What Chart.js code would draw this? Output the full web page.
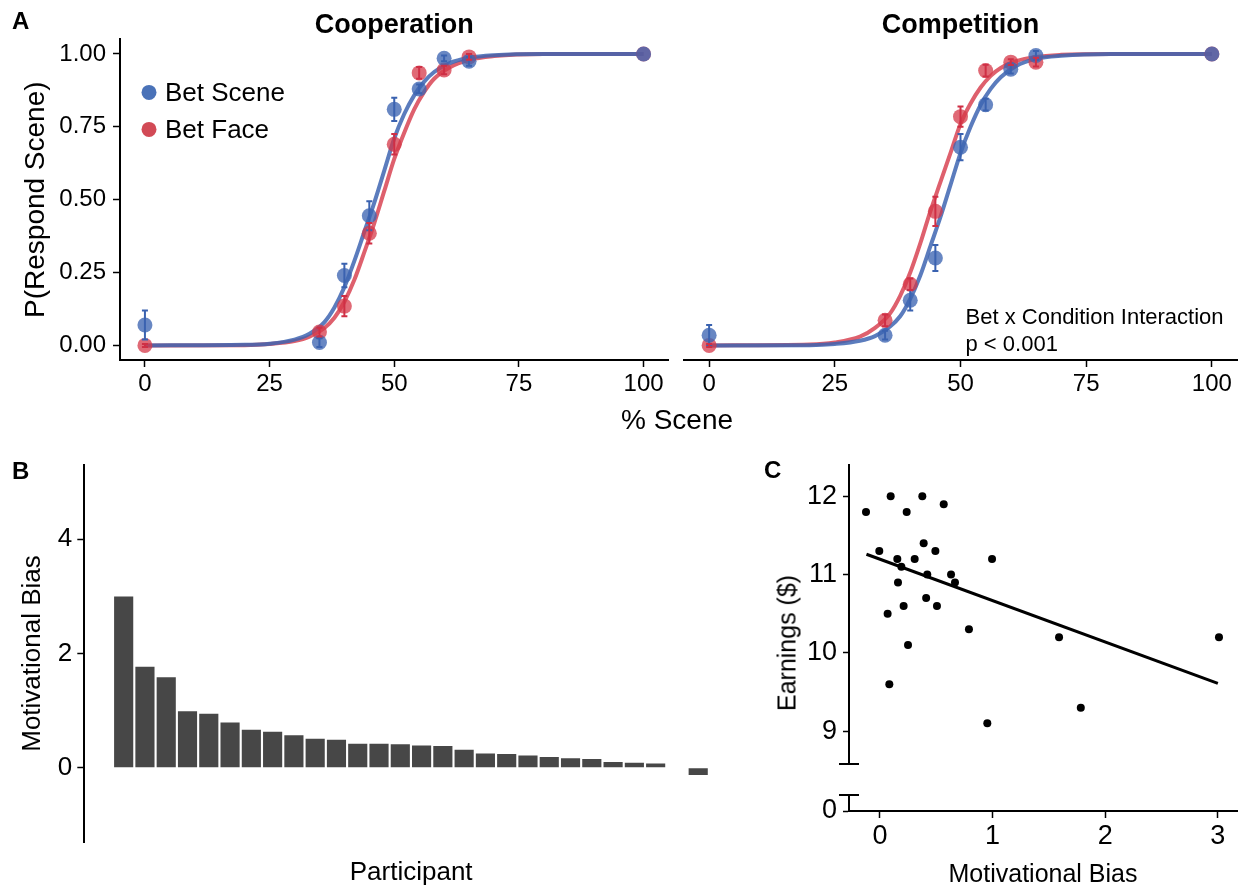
<!DOCTYPE html>
<html>
<head>
<meta charset="utf-8">
<script src="https://cdn.jsdelivr.net/npm/chart.js@4.4.0/dist/chart.umd.min.js"></script>
<style>
html, body { margin: 0; padding: 0; background: #fff; }
#fig { position: relative; width: 1245px; height: 888px; overflow: hidden; font-family: "Liberation Sans", Arial, sans-serif; color: #000; }
#fig canvas { position: absolute; }
.lbl { position: absolute; white-space: nowrap; line-height: 1; }
.tag { font-weight: bold; font-size: 24px; }
</style>
</head>
<body>
<div id="fig">
  <canvas id="coop" width="676" height="410" style="left:0;top:0"></canvas>
  <canvas id="comp" width="569" height="410" style="left:676px;top:0"></canvas>
  <canvas id="bias" width="740" height="448" style="left:0;top:440px"></canvas>
  <canvas id="earn" width="505" height="448" style="left:740px;top:440px"></canvas>
  <div class="lbl tag" style="left:12px;top:9px">A</div>
  <div class="lbl tag" style="left:12px;top:459px">B</div>
  <div class="lbl tag" style="left:764px;top:458px">C</div>
  <div class="lbl" style="left:677px;top:420px;font-size:28px;transform:translate(-50%,-50%)">% Scene</div>
  <div class="lbl" style="left:787px;top:643px;font-size:25px;transform:translate(-50%,-50%) rotate(-90deg)">Earnings ($)</div>
</div>
<script>
// panel A: proportion "scene" responses per % scene level
const sceneLevels = [0, 35, 40, 45, 50, 55, 60, 65, 100];
const coopBetScene = [0.07, 0.01, 0.24, 0.445, 0.81, 0.88, 0.985, 0.975, 1.0];
const coopBetSceneErr = [0.05, 0.015, 0.04, 0.05, 0.04, 0.015, 0.01, 0.015, 0];
const coopBetFace = [0.0, 0.046, 0.135, 0.385, 0.69, 0.935, 0.945, 0.99, 1.0];
const coopBetFaceErr = [0.005, 0.015, 0.035, 0.035, 0.035, 0.02, 0.015, 0.01, 0];
const compBetScene = [0.035, 0.035, 0.155, 0.3, 0.68, 0.826, 0.948, 0.995, 1.0];
const compBetSceneErr = [0.035, 0.015, 0.035, 0.045, 0.045, 0.02, 0.015, 0.015, 0];
const compBetFace = [0.0, 0.086, 0.21, 0.46, 0.785, 0.943, 0.972, 0.972, 1.0];
const compBetFaceErr = [0.005, 0.02, 0.02, 0.05, 0.035, 0.02, 0.01, 0.015, 0];

// fitted curves
const fitX = [0, 20, 25, 30, 33, 36, 38, 40, 42, 44, 46, 48, 50, 52, 54, 56, 58, 61, 65, 70, 80, 100];
const coopSceneFit = [0, 0.002, 0.006, 0.02, 0.04, 0.08, 0.13, 0.2, 0.29, 0.39, 0.49, 0.6, 0.71, 0.794, 0.858, 0.905, 0.938, 0.968, 0.987, 0.996, 1, 1];
const coopFaceFit = [0, 0.001, 0.005, 0.015, 0.03, 0.06, 0.095, 0.15, 0.225, 0.32, 0.42, 0.53, 0.64, 0.73, 0.81, 0.87, 0.915, 0.953, 0.98, 0.993, 1, 1];
const compSceneFit = [0, 0.001, 0.005, 0.016, 0.032, 0.065, 0.1, 0.16, 0.24, 0.34, 0.44, 0.55, 0.66, 0.75, 0.825, 0.88, 0.92, 0.958, 0.983, 0.994, 1, 1];
const compFaceFit = [0, 0.003, 0.01, 0.03, 0.06, 0.11, 0.17, 0.25, 0.35, 0.46, 0.56, 0.66, 0.76, 0.83, 0.885, 0.925, 0.952, 0.975, 0.99, 0.997, 1, 1];
const sceneTicks = [0, 25, 50, 75, 100];
const probTicks = [0, 0.25, 0.5, 0.75, 1];

// panel B: motivational bias per participant (sorted)
const participants = [1, 2, 3, 4, 5, 6, 7, 8, 9, 10, 11, 12, 13, 14, 15, 16, 17, 18, 19, 20, 21, 22, 23, 24, 25, 26, 27, 28];
const motivationalBias = [3.0, 1.77, 1.585, 0.99, 0.947, 0.79, 0.667, 0.632, 0.567, 0.509, 0.491, 0.42, 0.42, 0.41, 0.39, 0.38, 0.316, 0.251, 0.24, 0.216, 0.187, 0.164, 0.152, 0.099, 0.088, 0.076, 0, -0.129];
const biasTicksB = [0, 2, 4];

// panel C: earnings vs motivational bias
const biasC = [-0.124, 0.095, 0.376, 0.237, 0.566, -0.006, 0.154, 0.19, 0.308, 0.388, 0.492, 0.42, 0.631, 0.666, 0.16, 0.995, 0.21, 0.068, 0.41, 0.506, 0.79, 0.249, 0.083, 1.59, 3.01, 0.953, 1.783];
const earnings = [11.8, 12.0, 12.0, 11.8, 11.9, 11.3, 11.2, 11.1, 11.2, 11.4, 11.3, 11.0, 11.0, 10.9, 10.9, 11.2, 10.6, 10.5, 10.7, 10.6, 10.3, 10.1, 9.6, 10.2, 10.2, 9.1, 9.3];
const regX = [-0.12, 3.0];
const regY = [11.26, 9.61];
const biasTicksC = [0, 1, 2, 3];
const earnTicks = [9, 10, 11, 12];

Chart.defaults.font.family = '"Liberation Sans", Arial, sans-serif';
Chart.defaults.color = '#000';

const BLUE = 'rgba(62,101,178,0.78)';
const RED = 'rgba(214,56,72,0.75)';
const BLUE_LINE = 'rgba(62,101,178,0.85)';
const RED_LINE = 'rgba(214,56,72,0.8)';

const pts = (xs, ys) => xs.map((v, i) => ({x: v, y: ys[i]}));
const fixTicks = vals => s => { s.ticks = vals.map(v => ({value: v})); };

const errorBars = {
  id: 'errorBars',
  afterDatasetsDraw(chart) {
    const {ctx, scales: {x, y}} = chart;
    chart.data.datasets.forEach(ds => {
      if (!ds.errors) return;
      ctx.save();
      ctx.strokeStyle = ds.errorColor;
      ctx.lineWidth = 2;
      ds.data.forEach((p, j) => {
        const e = ds.errors[j];
        if (!e) return;
        const px = x.getPixelForValue(p.x);
        const top = y.getPixelForValue(p.y + e);
        const bot = y.getPixelForValue(p.y - e);
        ctx.beginPath();
        ctx.moveTo(px, top); ctx.lineTo(px, bot);
        ctx.moveTo(px - 3, top); ctx.lineTo(px + 3, top);
        ctx.moveTo(px - 3, bot); ctx.lineTo(px + 3, bot);
        ctx.stroke();
      });
      ctx.restore();
    });
  }
};

const dotLegend = {
  id: 'dotLegend',
  afterDraw(chart) {
    if (!chart.options.plugins.dotLegend.show) return;
    const {ctx, chartArea} = chart;
    const items = chart.data.datasets.filter(d => d.legendColor);
    ctx.save();
    ctx.font = '26px "Liberation Sans", Arial, sans-serif';
    ctx.textBaseline = 'middle';
    items.forEach((d, i) => {
      const cy = chartArea.top + 53 + i * 37;
      ctx.fillStyle = d.legendColor;
      ctx.beginPath();
      ctx.arc(chartArea.left + 29, cy, 7.5, 0, Math.PI * 2);
      ctx.fill();
      ctx.fillStyle = '#000';
      ctx.fillText(d.label, chartArea.left + 45, cy + 1);
    });
    ctx.restore();
  }
};

const noteText = {
  id: 'noteText',
  afterDraw(chart) {
    const lines = chart.options.plugins.noteText.lines;
    if (!lines) return;
    const {ctx, scales: {x, y}} = chart;
    ctx.save();
    ctx.font = '22px "Liberation Sans", Arial, sans-serif';
    ctx.fillStyle = '#000';
    ctx.textBaseline = 'middle';
    lines.forEach(l => ctx.fillText(l.text, x.getPixelForValue(l.x), y.getPixelForValue(l.y)));
    ctx.restore();
  }
};

function psychChart(id, title, sceneY, sceneErr, faceY, faceErr, sceneFit, faceFit, withYAxis, legend, notes) {
  return new Chart(document.getElementById(id), {
    type: 'scatter',
    data: {
      datasets: [
        {label: 'Bet Scene', data: pts(sceneLevels, sceneY), errors: sceneErr, errorColor: '#3a62b0',
         legendColor: '#4a72b8', backgroundColor: BLUE, pointRadius: 7.5, borderWidth: 0},
        {label: 'Bet Face', data: pts(sceneLevels, faceY), errors: faceErr, errorColor: '#cf2f45',
         legendColor: '#d24a56', backgroundColor: RED, pointRadius: 7.5, borderWidth: 0},
        {type: 'line', data: pts(fitX, sceneFit), borderColor: BLUE_LINE, borderWidth: 4,
         pointRadius: 0, cubicInterpolationMode: 'monotone'},
        {type: 'line', data: pts(fitX, faceFit), borderColor: RED_LINE, borderWidth: 4,
         pointRadius: 0, cubicInterpolationMode: 'monotone'}
      ]
    },
    options: {
      responsive: false,
      animation: false,
      layout: {padding: withYAxis ? {left: 0, right: 4} : {left: 8, right: 8}},
      plugins: {
        legend: {display: false},
        tooltip: {enabled: false},
        title: {display: true, text: title, fullSize: false,
                font: {size: 27, weight: 'bold', lineHeight: 1}, padding: {top: 12.4, bottom: 0}},
        dotLegend: {show: legend},
        noteText: {lines: notes}
      },
      scales: {
        x: {
          type: 'linear', min: -5, max: 105,
          afterBuildTicks: fixTicks(sceneTicks),
          afterFit: s => { s.height = 50; },
          grid: {drawOnChartArea: false, tickLength: 7, tickColor: '#000', tickWidth: 1.5},
          border: {color: '#000', width: 2},
          ticks: {font: {size: 24}, padding: 3, maxRotation: 0}
        },
        y: {
          type: 'linear', min: -0.05, max: 1.05, display: withYAxis,
          afterBuildTicks: fixTicks(probTicks),
          afterFit: s => { s.width = withYAxis ? 120 : 0; },
          grid: {drawOnChartArea: false, tickLength: 7, tickColor: '#000', tickWidth: 1.5},
          border: {color: '#000', width: 2},
          ticks: {font: {size: 24}, padding: 7, callback: v => v.toFixed(2)},
          title: {display: true, text: 'P(Respond Scene)', font: {size: 28}, padding: {top: 19, bottom: 0}}
        }
      }
    },
    plugins: [errorBars, dotLegend, noteText]
  });
}

psychChart('coop', 'Cooperation', coopBetScene, coopBetSceneErr, coopBetFace, coopBetFaceErr,
  coopSceneFit, coopFaceFit, true, true, null);
psychChart('comp', 'Competition', compBetScene, compBetSceneErr, compBetFace, compBetFaceErr,
  compSceneFit, compFaceFit, false, false,
  [{text: 'Bet x Condition Interaction', x: 51, y: 0.095}, {text: 'p < 0.001', x: 51, y: 0.0}]);

// panel B
new Chart(document.getElementById('bias'), {
  type: 'bar',
  data: {
    datasets: [{
      data: pts(participants, motivationalBias),
      backgroundColor: '#474747',
      barPercentage: 0.9,
      categoryPercentage: 1
    }]
  },
  options: {
    responsive: false,
    animation: false,
    layout: {padding: {top: 25, right: 2}},
    plugins: {legend: {display: false}, tooltip: {enabled: false}},
    scales: {
      x: {
        type: 'linear', min: -0.85, max: 29.87, offset: false,
        afterFit: s => { s.height = 46; },
        grid: {display: false},
        border: {display: false},
        ticks: {display: false},
        title: {display: true, text: 'Participant', font: {size: 26}, padding: 0}
      },
      y: {
        type: 'linear', min: -1.3, max: 5.3,
        afterBuildTicks: fixTicks(biasTicksB),
        afterFit: s => { s.width = 84.3; },
        grid: {drawOnChartArea: false, tickLength: 7, tickColor: '#000', tickWidth: 1.5},
        border: {color: '#000', width: 2},
        ticks: {font: {size: 26}, padding: 5},
        title: {display: true, text: 'Motivational Bias', font: {size: 26}, padding: {top: 17, bottom: 0}}
      }
    }
  }
});

// panel C: broken y axis made from stacked scales (stack is laid out bottom-up)
const axisBreak = {
  id: 'axisBreak',
  afterDraw(chart) {
    const {ctx, chartArea} = chart;
    const up = chart.scales.y, low = chart.scales.yLow;
    ctx.save();
    ctx.strokeStyle = '#000';
    ctx.lineWidth = 2;
    [up.bottom, low.top].forEach(py => {
      ctx.beginPath();
      ctx.moveTo(chartArea.left - 10, py);
      ctx.lineTo(chartArea.left + 10, py);
      ctx.stroke();
    });
    ctx.restore();
  }
};

new Chart(document.getElementById('earn'), {
  type: 'scatter',
  data: {
    datasets: [
      {data: pts(biasC, earnings), backgroundColor: '#000', pointRadius: 4, borderWidth: 0, yAxisID: 'y'},
      {type: 'line', data: pts(regX, regY), borderColor: '#000', borderWidth: 3, pointRadius: 0, yAxisID: 'y'}
    ]
  },
  options: {
    responsive: false,
    animation: false,
    layout: {padding: {top: 25, right: 8}},
    plugins: {legend: {display: false}, tooltip: {enabled: false}},
    scales: {
      x: {
        type: 'linear', min: -0.275, max: 3.17,
        afterBuildTicks: fixTicks(biasTicksC),
        afterFit: s => { s.height = 77; },
        grid: {drawOnChartArea: false, tickLength: 7, tickColor: '#000', tickWidth: 1.5},
        border: {color: '#000', width: 2},
        ticks: {font: {size: 27}, padding: 2},
        title: {display: true, text: 'Motivational Bias', font: {size: 25, lineHeight: 1}, padding: 0}
      },
      yLow: {
        type: 'linear', position: 'left', stack: 'earn', stackWeight: 16, min: 0, max: 0.2,
        afterBuildTicks: fixTicks([0]),
        afterFit: s => { s.width = 109; },
        grid: {drawOnChartArea: false, tickLength: 6, tickColor: '#000', tickWidth: 1.5},
        border: {color: '#000', width: 2},
        ticks: {font: {size: 27}, padding: 6}
      },
      yGap: {
        type: 'linear', position: 'left', stack: 'earn', stackWeight: 31,
        afterFit: s => { s.width = 109; },
        grid: {display: false},
        border: {display: false},
        ticks: {display: false}
      },
      y: {
        type: 'linear', position: 'left', stack: 'earn', stackWeight: 299, min: 8.58, max: 12.4,
        afterBuildTicks: fixTicks(earnTicks),
        afterFit: s => { s.width = 109; },
        grid: {drawOnChartArea: false, tickLength: 6, tickColor: '#000', tickWidth: 1.5},
        border: {color: '#000', width: 2},
        ticks: {font: {size: 27}, padding: 6}
      }
    }
  },
  plugins: [axisBreak]
});
</script>
</body>
</html>
